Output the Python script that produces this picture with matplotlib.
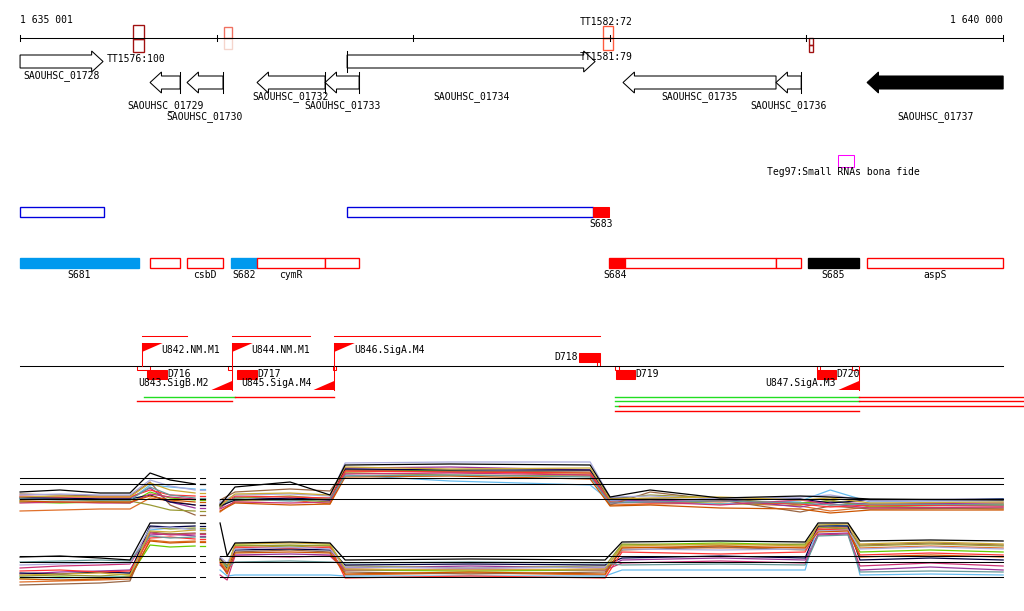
import matplotlib
matplotlib.use('Agg')
import matplotlib.pyplot as plt
from matplotlib.patches import Polygon, Rectangle

# ---- data -------------------------------------------------------------
view_start, view_end = 1634899, 1640106
ruler_start, ruler_end = 1635001, 1640000
ruler_ticks = [1635001, 1636000, 1637000, 1638000, 1639000, 1640000]

gene_names = ['SAOUHSC_01728', 'SAOUHSC_01729', 'SAOUHSC_01730', 'SAOUHSC_01732',
              'SAOUHSC_01733', 'SAOUHSC_01734', 'SAOUHSC_01735', 'SAOUHSC_01736',
              'SAOUHSC_01737']
gene_start = [1635001, 1635662, 1635850, 1636206, 1636552, 1636664, 1638067, 1638845, 1639308]
gene_end = [1635423, 1635815, 1636033, 1636552, 1636725, 1637925, 1638845, 1638973, 1640000]
gene_strand = ['+', '-', '-', '-', '-', '+', '-', '-', '-']
gene_filled = [False, False, False, False, False, False, False, False, True]
gene_bar = [False, True, True, True, True, True, False, True, False]
gene_label_row = [76, 106, 117, 97, 106, 97, 97, 106, 117]

term_start = [1635576, 1636038, 1637966, 1639013]
term_end = [1635632, 1636079, 1638017, 1639034]
term_color = ['#a01010', '#f07060', '#ff5a3c', '#a01010']
term_lower = ['#a01010', '#f5d5cc', '#ff5a3c', '#a01010']

srna_start, srna_end = 1639161, 1639242
srna_label = 'Teg97:Small RNAs bona fide'

# blue-outline track
t1_start = [1635001, 1636664]
t1_end = [1635428, 1637915]
s683 = (1637915, 1637996)

# annotation track
t2_start = [1635001, 1635662, 1635850, 1636074, 1636206, 1636552, 1637996, 1638078, 1638845, 1639008, 1639308]
t2_end = [1635606, 1635815, 1636033, 1636206, 1636552, 1636725, 1638078, 1638845, 1638973, 1639267, 1640000]
t2_label = ['S681', '', 'csbD', 'S682', 'cymR', '', 'S684', '', '', 'S685', 'aspS']
t2_fill = ['#0099ee', 'white', 'white', '#0099ee', 'white', 'white', 'red', 'white', 'white', 'black', 'white']

# promoters / transcription units
tss_fwd = [1635621, 1636079, 1636598]
tss_fwd_label = ['U842.NM.M1', 'U844.NM.M1', 'U846.SigA.M4']
tss_rev = [1636079, 1636598, 1639267]
tss_rev_label = ['U843.SigB.M2', 'U845.SigA.M4', 'U847.SigA.M3']
upper_tu = [(1635621, 1635850), (1636079, 1636476), (1636598, 1637951)]
d_name = ['D716', 'D717', 'D718', 'D719', 'D720']
d_start = [1635647, 1636104, 1637844, 1638032, 1639054]
d_end = [1635749, 1636206, 1637951, 1638128, 1639150]
d_above = [False, False, True, False, False]
small_marks = [(1635596, 1635662), (1636059, 1636079), (1636593, 1636608), (1638027, 1638047),
               (1639054, 1639069), (1639231, 1639267)]

# expression profiles (log intensity)
colors = ['black', '#e0702a', '#66cc00', '#993399', '#66bbee', '#996644', '#999933',
          '#000044', '#ff3333', '#cc3377', '#aaaadd', '#cc5500', '#669999', '#ccaa33']

p1_left_x = [1635001, 1635204, 1635408, 1635560, 1635662, 1635764, 1635891]
p1_right_x = [1636018, 1636094, 1636374, 1636577, 1636654, 1637188, 1637900, 1638001,
              1638205, 1638561, 1638968, 1639121, 1639324, 1640000]
p1_left = [
    [7.6, 8.0, 7.4, 7.4, 11.4, 10.0, 9.2],
    [3.8, 4.0, 4.2, 4.2, 6.4, 5.8, 5.0],
    [5.6, 5.4, 5.6, 5.4, 7.6, 6.4, 6.0],
    [6.6, 6.2, 6.4, 6.4, 8.4, 5.6, 4.4],
    [6.2, 6.4, 6.0, 6.0, 9.0, 8.6, 8.2],
    [7.2, 7.0, 6.8, 6.8, 9.6, 5.0, 3.0],
    [6.0, 6.2, 5.8, 5.8, 5.0, 4.0, 3.8],
    [6.4, 6.4, 6.2, 6.2, 7.0, 5.6, 5.0],
    [6.8, 6.6, 6.6, 6.6, 8.0, 7.0, 6.8],
    [5.4, 5.6, 5.4, 5.4, 7.2, 6.6, 6.2],
    [7.0, 7.2, 7.0, 7.0, 10.0, 8.8, 8.0],
    [5.8, 5.6, 5.6, 5.6, 6.8, 6.0, 5.6],
    [6.2, 6.0, 6.0, 6.0, 8.6, 7.0, 6.4],
    [6.6, 6.8, 6.6, 6.6, 9.4, 8.0, 7.4]]
p1_right = [
    [5.0, 8.6, 9.6, 7.0, 13.0, 13.2, 13.0, 6.6, 8.0, 6.4, 6.8, 6.6, 6.2, 6.0],
    [3.6, 5.8, 6.0, 5.2, 11.6, 11.8, 11.0, 5.0, 5.2, 5.4, 4.8, 3.8, 4.6, 4.2],
    [5.0, 6.0, 6.2, 5.6, 12.0, 11.8, 11.4, 5.6, 6.0, 5.2, 5.4, 5.8, 4.8, 5.0],
    [4.4, 6.6, 6.2, 6.0, 12.4, 12.6, 12.0, 6.0, 5.8, 6.2, 4.6, 5.6, 5.2, 5.4],
    [5.4, 6.2, 6.0, 6.4, 11.0, 9.8, 9.0, 5.8, 5.6, 5.2, 5.8, 8.0, 5.6, 6.2],
    [6.0, 7.6, 8.2, 7.8, 12.0, 11.6, 11.8, 5.0, 7.6, 6.0, 3.6, 4.8, 4.2, 4.4],
    [4.6, 6.4, 6.8, 6.2, 11.4, 11.0, 10.8, 6.2, 7.0, 6.4, 5.0, 6.0, 4.6, 5.2],
    [4.8, 6.0, 6.4, 6.0, 12.2, 12.0, 12.0, 6.4, 6.2, 6.0, 6.2, 5.4, 6.0, 6.2],
    [5.2, 6.8, 6.6, 6.4, 11.8, 11.6, 11.4, 5.6, 5.4, 5.8, 5.2, 4.6, 5.0, 4.8],
    [4.2, 5.6, 5.4, 5.6, 11.2, 11.4, 11.0, 5.4, 5.6, 5.0, 6.0, 5.2, 4.4, 4.6],
    [5.6, 7.0, 7.2, 6.8, 13.4, 13.6, 13.6, 6.6, 6.8, 6.2, 6.6, 7.0, 5.8, 5.8],
    [3.8, 5.4, 5.0, 5.2, 10.6, 10.8, 10.2, 4.8, 5.0, 4.4, 4.2, 3.4, 4.0, 4.0],
    [5.2, 6.2, 5.8, 6.2, 10.8, 11.0, 10.6, 5.4, 5.6, 5.8, 5.4, 5.0, 5.2, 5.0],
    [4.8, 7.2, 7.4, 7.0, 12.6, 12.2, 12.4, 6.2, 6.4, 6.6, 6.0, 6.4, 5.4, 5.6]]
p1_ref = [10.4, 9.2, 6.2]

p2_left_x = [1635001, 1635204, 1635408, 1635560, 1635662, 1635764, 1635891]
p2_right_x = [1636018, 1636054, 1636094, 1636374, 1636577, 1636654, 1637290, 1637976,
              1638062, 1638561, 1638993, 1639059, 1639211, 1639272, 1639630, 1640000]
p2_left = [
    [6.6, 6.8, 6.4, 6.0, 13.4, 13.4, 13.4],
    [1.6, 1.8, 2.0, 2.2, 10.0, 9.6, 9.8],
    [2.4, 2.6, 2.4, 2.8, 9.0, 8.6, 8.8],
    [3.2, 3.6, 3.8, 4.0, 11.0, 11.2, 10.8],
    [2.6, 2.4, 2.6, 2.6, 12.0, 12.4, 12.2],
    [1.0, 1.2, 1.4, 1.8, 11.6, 11.2, 11.4],
    [2.8, 3.0, 2.8, 3.2, 12.6, 12.2, 12.4],
    [3.4, 3.2, 3.6, 3.4, 12.8, 12.6, 12.8],
    [3.8, 4.0, 3.6, 3.8, 10.4, 10.6, 10.2],
    [4.4, 4.8, 5.0, 5.2, 11.4, 11.0, 11.2],
    [5.0, 5.2, 5.4, 5.4, 12.4, 12.6, 12.0],
    [2.2, 2.0, 2.2, 2.6, 9.8, 9.4, 9.6],
    [5.6, 5.8, 6.0, 5.8, 10.8, 10.4, 10.6],
    [3.0, 3.2, 3.4, 3.0, 11.8, 11.6, 12.0]]
p2_right = [
    [13.4, 6.8, 9.4, 9.6, 9.4, 6.0, 6.2, 6.0, 9.6, 9.8, 9.6, 13.4, 13.4, 9.8, 10.0, 9.8],
    [6.0, 4.0, 8.4, 8.8, 8.4, 3.0, 3.4, 3.0, 8.6, 8.4, 8.6, 12.4, 12.6, 8.4, 8.8, 8.4],
    [6.0, 4.4, 9.0, 8.8, 9.0, 4.0, 3.8, 4.0, 9.0, 9.4, 9.0, 12.0, 12.0, 7.6, 8.0, 7.6],
    [5.0, 3.6, 7.0, 7.2, 7.0, 4.4, 4.8, 4.4, 6.0, 6.4, 6.0, 11.2, 11.4, 4.0, 4.6, 4.0],
    [4.0, 2.8, 3.0, 3.0, 3.0, 2.8, 2.8, 2.8, 4.0, 4.0, 4.0, 13.0, 12.8, 3.0, 3.2, 3.0],
    [6.4, 5.0, 7.6, 8.0, 7.6, 3.6, 3.2, 3.6, 8.0, 8.6, 8.0, 12.0, 12.4, 9.0, 9.4, 9.0],
    [6.0, 4.8, 8.8, 9.0, 8.8, 4.8, 4.4, 4.8, 9.2, 9.0, 9.2, 12.6, 12.2, 8.8, 9.2, 8.8],
    [6.2, 4.2, 8.0, 8.2, 8.0, 5.0, 5.2, 5.0, 6.4, 6.8, 6.4, 12.8, 12.8, 6.0, 6.4, 6.0],
    [5.6, 3.8, 8.6, 8.4, 8.6, 2.4, 2.8, 2.4, 7.6, 7.2, 7.6, 12.2, 12.0, 7.0, 7.4, 7.0],
    [3.0, 2.0, 6.8, 6.6, 6.8, 4.0, 4.2, 4.0, 5.4, 5.8, 5.4, 11.0, 11.2, 4.8, 5.4, 4.8],
    [6.6, 5.4, 8.2, 8.6, 8.2, 4.6, 4.4, 4.6, 8.2, 8.0, 8.2, 11.8, 12.0, 8.2, 8.6, 8.2],
    [5.4, 3.2, 7.4, 7.6, 7.4, 3.2, 3.6, 3.2, 8.4, 8.8, 8.4, 11.6, 11.8, 6.6, 7.0, 6.6],
    [5.8, 4.6, 5.6, 5.8, 5.6, 5.4, 5.6, 5.4, 5.0, 5.2, 5.0, 10.8, 11.0, 3.6, 3.8, 3.6],
    [6.0, 4.0, 9.2, 9.4, 9.2, 4.2, 4.0, 4.2, 8.8, 9.2, 8.8, 13.0, 13.2, 9.2, 9.6, 9.2]]
p2_ref = [6.8, 5.6, 2.6]
gap_dash = (1635916, 1635942)

# ---- layout (track rows, in figure pixel rows) ------------------------
ROW_RULER = 38
ROW_FWD = 61.5
ROW_REV = 82.5
ROW_T1 = (207, 217)
ROW_T2 = (258, 268)
ROW_LINE = 366
MONO = 'DejaVu Sans Mono'
FS = 7
PX = 0.75  # one pixel in points

fig = plt.figure(figsize=(10.24, 6.11), dpi=100)
ax = fig.add_axes([0, 0, 1, 1])
ax.set_xlim(view_start, view_end)
ax.set_ylim(611, 0)
ax.axis('off')


def txt(x, y, s, ha='left', **kw):
    ax.text(x, y, s, ha=ha, va='center', fontsize=FS, family=MONO, **kw)


# ruler
ax.plot([ruler_start, ruler_end], [ROW_RULER, ROW_RULER], color='black', lw=PX)
for t in ruler_ticks:
    ax.plot([t, t], [ROW_RULER - 3, ROW_RULER + 3], color='black', lw=PX)
txt(ruler_start, 20, '1 635 001')
txt(ruler_end, 20, '1 640 000', ha='right')

# terminators
term_rows = [(25, 52), (27, 49), (26, 50), (38, 52)]
for s, e, c, cl, (y0, y1) in zip(term_start, term_end, term_color, term_lower, term_rows):
    ym = (y0 + y1) / 2
    ax.add_patch(Rectangle((s, ym), e - s, y1 - ym, fill=False, edgecolor=cl, lw=PX * 1.3))
    ax.add_patch(Rectangle((s, y0), e - s, ym - y0, fill=False, edgecolor=c, lw=PX * 1.3))
txt(1635443, 59, 'TT1576:100')
txt(1637849, 22, 'TT1582:72')
txt(1637849, 57, 'TT1581:79')

# genes
head = 58
for name, s, e, st, fill, bar, lrow in zip(gene_names, gene_start, gene_end, gene_strand,
                                            gene_filled, gene_bar, gene_label_row):
    yc = ROW_FWD if st == '+' else ROW_REV
    h, hh = 6.5, 10.5
    if st == '+':
        b = e - head
        pts = [(s, yc - h), (b, yc - h), (b, yc - hh), (e, yc), (b, yc + hh), (b, yc + h), (s, yc + h)]
        bx = s
    else:
        b = s + head
        pts = [(e, yc - h), (b, yc - h), (b, yc - hh), (s, yc), (b, yc + hh), (b, yc + h), (e, yc + h)]
        bx = e
    ax.add_patch(Polygon(pts, closed=True, facecolor='black' if fill else 'white',
                         edgecolor='black', lw=PX))
    if bar:
        ax.plot([bx, bx], [yc - hh, yc + hh], color='black', lw=PX)
    txt((s + e) / 2 if name != 'SAOUHSC_01728' else 1635210, lrow, name, ha='center')

# small RNA
ax.add_patch(Rectangle((srna_start, 155), srna_end - srna_start, 12, fill=False,
                       edgecolor='magenta', lw=PX))
txt(1638800, 172, srna_label)

# track 1
for s, e in zip(t1_start, t1_end):
    ax.add_patch(Rectangle((s, ROW_T1[0]), e - s, ROW_T1[1] - ROW_T1[0], fill=False,
                           edgecolor='#0000dd', lw=PX * 1.3))
ax.add_patch(Rectangle((s683[0], ROW_T1[0]), s683[1] - s683[0], ROW_T1[1] - ROW_T1[0],
                       facecolor='red', edgecolor='red', lw=PX))
txt((s683[0] + s683[1]) / 2, 224, 'S683', ha='center')

# track 2
for s, e, lab, f in zip(t2_start, t2_end, t2_label, t2_fill):
    ec = f if f in ('#0099ee', 'black') else 'red'
    ax.add_patch(Rectangle((s, ROW_T2[0]), e - s, ROW_T2[1] - ROW_T2[0], facecolor=f,
                           edgecolor=ec, lw=PX * 1.3))
    if lab:
        cx = (s + e) / 2 if lab != 'S684' else s + 30
        txt(cx, 275, lab, ha='center')

# promoter / transcript track
ax.plot([ruler_start, ruler_end], [ROW_LINE, ROW_LINE], color='black', lw=PX)
for s, e in upper_tu:
    ax.plot([s, e], [336, 336], color='red', lw=PX)
for x, lab in zip(tss_fwd, tss_fwd_label):
    ax.plot([x, x], [ROW_LINE, 343], color='red', lw=PX)
    ax.add_patch(Polygon([(x, 343), (x + 105, 343), (x, 352)], closed=True,
                         facecolor='red', edgecolor='none'))
    txt(x + 100, 350, lab)
for x in tss_rev:
    ax.plot([x, x], [ROW_LINE, 390], color='red', lw=PX)
    ax.add_patch(Polygon([(x, 390), (x - 105, 390), (x, 381)], closed=True,
                         facecolor='red', edgecolor='none'))
tss_rev_text_x = [1635601, 1636125, 1639150]
for x, lab, ha in zip(tss_rev_text_x, tss_rev_label, ['left', 'left', 'right']):
    txt(x, 383, lab, ha=ha)
for s, e in small_marks:
    ax.add_patch(Rectangle((s, ROW_LINE), e - s, 4, fill=False, edgecolor='red', lw=PX))
ax.add_patch(Rectangle((1637935, 362), 16, 4, fill=False, edgecolor='red', lw=PX))
for n, s, e, up in zip(d_name, d_start, d_end, d_above):
    y0 = 353 if up else 370
    ax.add_patch(Rectangle((s, y0), e - s, 9, facecolor='red', edgecolor='red', lw=PX))
    if up:
        txt(s - 5, 357, n, ha='right')
    else:
        txt(e, 374, n)

# transcript lines
tu_lines = [
    (1635632, 1636094, 397, '#22dd22'), (1636094, 1636598, 397, 'red'),
    (1635596, 1636079, 401, 'red'),
    (1638027, 1639267, 397, '#22dd22'), (1639267, view_end, 397, 'red'),
    (1638027, 1639267, 401, '#22dd22'), (1639267, view_end, 401, 'red'),
    (1638027, 1638047, 406, '#22dd22'), (1638047, view_end, 406, 'red'),
    (1638027, 1639267, 411, 'red')]
for s, e, y, c in tu_lines:
    ax.plot([s, e], [y, y], color=c, lw=1.0)


# expression panels
def panel(bottom_px, lx, left, rx, right, ref):
    pax = fig.add_axes([0, (611 - bottom_px) / 611, 1, 75 / 611])
    pax.set_xlim(view_start, view_end)
    pax.set_ylim(0, 15)
    pax.axis('off')
    pax.patch.set_alpha(0)
    for c, lv, rv in zip(colors, left, right):
        z = 3 if c == 'black' else 2
        pax.plot(lx, lv, color=c, lw=0.9, zorder=z)
        pax.plot(rx, rv, color=c, lw=0.9, zorder=z)
        pax.plot(gap_dash, [lv[-1], lv[-1]], color=c, lw=0.9)
    for r in ref:
        pax.plot([lx[0], lx[-1]], [r, r], color='black', lw=PX, zorder=4)
        pax.plot([rx[0], rx[-1]], [r, r], color='black', lw=PX, zorder=4)
        pax.plot(gap_dash, [r, r], color='black', lw=PX, zorder=4)


panel(530, p1_left_x, p1_left, p1_right_x, p1_right, p1_ref)
panel(590, p2_left_x, p2_left, p2_right_x, p2_right, p2_ref)

fig.savefig('out.png', dpi=100)
